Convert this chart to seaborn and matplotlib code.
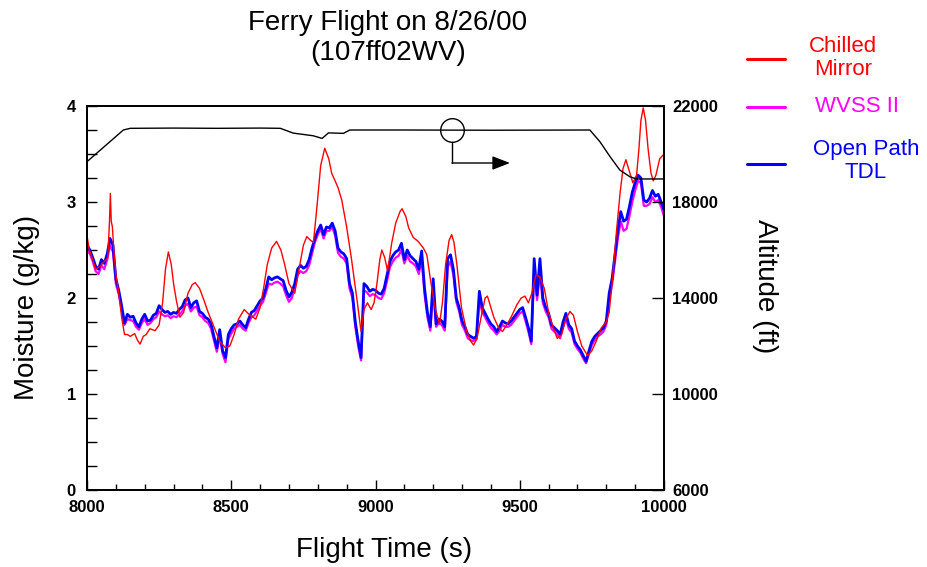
import numpy as np
import matplotlib
matplotlib.use("Agg")
import matplotlib.pyplot as plt
import seaborn as sns
from matplotlib.ticker import MultipleLocator

# ---------------- data ----------------
time_grid = np.arange(8000, 10001, 10)

tdl_values = [
    2.55, 2.50, 2.42, 2.33, 2.30, 2.40, 2.36, 2.46, 2.62, 2.55,
    2.20, 2.08, 1.92, 1.74, 1.83, 1.80, 1.81, 1.74, 1.70, 1.78,
    1.83, 1.76, 1.77, 1.82, 1.84, 1.92, 1.88, 1.85, 1.86, 1.83,
    1.85, 1.84, 1.88, 1.91, 1.98, 2.00, 1.90, 1.95, 1.97, 1.86,
    1.84, 1.80, 1.78, 1.73, 1.60, 1.48, 1.67, 1.45, 1.38, 1.62,
    1.68, 1.72, 1.73, 1.76, 1.72, 1.69, 1.78, 1.85, 1.87, 1.92,
    1.97, 2.00, 2.10, 2.22, 2.19, 2.21, 2.22, 2.20, 2.18, 2.08,
    2.01, 2.06, 2.15, 2.30, 2.34, 2.31, 2.33, 2.40, 2.52, 2.62,
    2.70, 2.76, 2.66, 2.74, 2.73, 2.78, 2.70, 2.52, 2.48, 2.46,
    2.41, 2.15, 2.05, 1.75, 1.55, 1.38, 2.15, 2.12, 2.07, 2.09,
    2.08, 2.05, 2.04, 2.10, 2.24, 2.38, 2.44, 2.48, 2.50, 2.57,
    2.40, 2.50, 2.44, 2.41, 2.38, 2.30, 2.49, 2.10, 1.85, 1.70,
    2.20, 1.73, 1.78, 1.76, 1.70, 2.41, 2.45, 2.30, 2.00, 1.90,
    1.76, 1.70, 1.62, 1.60, 1.58, 1.60, 2.07, 1.90, 1.84, 1.78,
    1.73, 1.70, 1.65, 1.70, 1.76, 1.74, 1.73, 1.76, 1.80, 1.84,
    1.88, 1.90, 1.80, 1.69, 1.55, 2.41, 2.03, 2.41, 2.00, 1.90,
    1.84, 1.72, 1.69, 1.66, 1.62, 1.75, 1.84, 1.72, 1.68, 1.55,
    1.50, 1.46, 1.40, 1.34, 1.45, 1.55, 1.60, 1.63, 1.66, 1.69,
    1.76, 2.05, 2.20, 2.45, 2.70, 2.90, 2.80, 2.82, 2.95, 3.10,
    3.20, 3.28, 3.25, 3.02, 3.00, 3.04, 3.12, 3.06, 3.08, 3.00,
    2.92,
]

wvss_values = [
    2.50, 2.46, 2.38, 2.28, 2.25, 2.34, 2.30, 2.40, 2.55, 2.48,
    2.15, 2.04, 1.88, 1.72, 1.78, 1.77, 1.76, 1.70, 1.67, 1.74,
    1.78, 1.72, 1.74, 1.78, 1.80, 1.86, 1.83, 1.81, 1.82, 1.79,
    1.81, 1.80, 1.83, 1.86, 1.92, 1.94, 1.86, 1.90, 1.91, 1.82,
    1.80, 1.76, 1.74, 1.68, 1.56, 1.44, 1.60, 1.42, 1.33, 1.57,
    1.63, 1.68, 1.70, 1.72, 1.68, 1.66, 1.74, 1.80, 1.82, 1.87,
    1.92, 1.96, 2.05, 2.15, 2.14, 2.16, 2.17, 2.15, 2.12, 2.03,
    1.96, 2.00, 2.10, 2.24, 2.28, 2.26, 2.28, 2.34, 2.46, 2.58,
    2.66, 2.72, 2.62, 2.70, 2.70, 2.74, 2.65, 2.47, 2.43, 2.41,
    2.36, 2.10, 2.00, 1.70, 1.50, 1.35, 2.08, 2.06, 2.02, 2.04,
    2.03, 2.00, 1.99, 2.05, 2.18, 2.32, 2.38, 2.42, 2.44, 2.50,
    2.36, 2.44, 2.38, 2.36, 2.33, 2.25, 2.40, 2.04, 1.80, 1.66,
    2.10, 1.70, 1.74, 1.72, 1.66, 2.32, 2.38, 2.24, 1.96, 1.86,
    1.72, 1.66, 1.58, 1.56, 1.55, 1.57, 1.98, 1.85, 1.80, 1.74,
    1.69, 1.66, 1.62, 1.66, 1.72, 1.70, 1.70, 1.72, 1.76, 1.80,
    1.84, 1.86, 1.76, 1.65, 1.52, 2.28, 1.98, 2.25, 1.95, 1.86,
    1.80, 1.68, 1.65, 1.62, 1.58, 1.70, 1.79, 1.68, 1.64, 1.52,
    1.47, 1.43, 1.37, 1.32, 1.42, 1.51, 1.56, 1.60, 1.62, 1.65,
    1.72, 1.98, 2.14, 2.38, 2.62, 2.80, 2.70, 2.72, 2.85, 3.00,
    3.12, 3.22, 3.20, 2.96, 2.96, 2.98, 3.05, 3.00, 3.02, 2.95,
    2.85,
]

mirror_time = [
    8000, 8008, 8020, 8030, 8045, 8060, 8072, 8078, 8081, 8084, 8088, 8093,
    8100, 8110, 8120, 8130, 8140, 8150, 8165, 8175, 8184, 8195, 8205, 8218,
    8236, 8250, 8262, 8272, 8282, 8292, 8300, 8310, 8322, 8335, 8350, 8365,
    8375, 8390, 8405, 8420, 8440, 8460, 8480, 8495, 8510, 8525, 8545, 8565,
    8585, 8600, 8612, 8625, 8640, 8657, 8672, 8685, 8700, 8720, 8735, 8750,
    8762, 8775, 8785, 8797, 8810, 8824, 8838, 8848, 8860, 8870, 8883, 8900,
    8917, 8935, 8950, 8960, 8972, 8985, 8995, 9005, 9015, 9022, 9032, 9042,
    9056, 9070, 9085, 9092, 9105, 9115, 9131, 9148, 9158, 9166, 9178, 9190,
    9206, 9222, 9232, 9243, 9255, 9264, 9272, 9282, 9298, 9316, 9330, 9340,
    9352, 9366, 9380, 9388, 9398, 9410, 9425, 9440, 9455, 9470, 9490, 9505,
    9518, 9530, 9542, 9556, 9570, 9585, 9600, 9615, 9630, 9645, 9660, 9674,
    9686, 9700, 9715, 9735, 9750, 9765, 9783, 9800, 9810, 9820, 9836, 9848,
    9858, 9868, 9880, 9892, 9905, 9913, 9920, 9928, 9936, 9945, 9955, 9963,
    9972, 9985, 10000,
]
mirror_values = [
    2.65, 2.50, 2.40, 2.30, 2.33, 2.38, 2.42, 2.80, 3.09, 2.80, 2.74, 2.50,
    2.25, 2.05, 1.80, 1.62, 1.62, 1.60, 1.63, 1.56, 1.52, 1.60, 1.62, 1.68,
    1.66, 1.72, 1.95, 2.30, 2.48, 2.35, 2.15, 1.97, 1.80, 1.85, 2.05, 2.14,
    2.16, 2.10, 1.98, 1.85, 1.70, 1.55, 1.48, 1.50, 1.62, 1.78, 1.88, 1.82,
    1.78, 1.90, 2.10, 2.35, 2.52, 2.59, 2.50, 2.35, 2.15, 2.05, 2.30, 2.55,
    2.64, 2.60, 2.58, 2.95, 3.38, 3.56, 3.45, 3.30, 3.22, 3.15, 3.02, 2.74,
    2.40, 2.00, 1.65, 1.88, 1.95, 1.88, 1.95, 2.15, 2.40, 2.50, 2.42, 2.28,
    2.57, 2.78, 2.90, 2.93, 2.85, 2.73, 2.63, 2.59, 2.55, 2.52, 2.45, 2.20,
    1.90, 1.73, 1.95, 2.35, 2.60, 2.66, 2.58, 2.35, 1.90, 1.65, 1.55, 1.51,
    1.58, 1.80, 2.00, 2.02, 1.92, 1.80, 1.70, 1.65, 1.72, 1.80, 1.93, 2.00,
    2.02, 1.95, 2.05, 2.24, 2.22, 2.10, 1.85, 1.70, 1.58, 1.62, 1.78, 1.86,
    1.82, 1.65, 1.50, 1.40, 1.45, 1.55, 1.69, 1.75, 1.85, 2.15, 2.72, 3.10,
    3.35, 3.44, 3.32, 3.20, 3.28, 3.55, 3.85, 3.98, 3.85, 3.55, 3.30, 3.22,
    3.28, 3.45, 3.50,
]

alt_time = [8000, 8126, 8150, 8300, 8450, 8600, 8670, 8715, 8784, 8815, 8837,
            8889, 8911, 9100, 9400, 9743, 9778, 9813, 9847, 9882, 9905, 10000]
alt_values = [19680, 21000, 21070, 21080, 21070, 21080, 21070, 20870, 20760,
              20650, 20880, 20860, 21000, 21000, 20990, 21000, 20510, 19890,
              19330, 19050, 18960, 18960]

x_ticks = [8000, 8500, 9000, 9500, 10000]
moist_ticks = [0, 1, 2, 3, 4]
alt_ticks = [6000, 10000, 14000, 18000, 22000]

series_labels = ["Chilled\nMirror", "WVSS II", "Open Path\nTDL"]
series_colors = ["#ff0000", "#ff00ff", "#0000ff"]

# annotation (circle on altitude line, arrow pointing to right axis)
marker_time = 9265
arrow_corner_alt = 19625
arrow_end_time = 9466

# ---------------- figure ----------------
sns.set_theme(style="white")
plt.rcParams["font.family"] = ["Liberation Sans", "DejaVu Sans"]
plt.rcParams["text.color"] = "black"
plt.rcParams["axes.labelcolor"] = "black"
plt.rcParams["xtick.color"] = "black"
plt.rcParams["ytick.color"] = "black"

W, H = 927, 567
fig = plt.figure(figsize=(W / 100, H / 100), dpi=100)
ax = fig.add_axes([87 / W, 1 - 490 / H, (664 - 87) / W, (490 - 106) / H])

sns.lineplot(x=time_grid, y=wvss_values, ax=ax, color=series_colors[1],
             lw=1.6, estimator=None, sort=False)
sns.lineplot(x=time_grid, y=tdl_values, ax=ax, color=series_colors[2],
             lw=2.0, estimator=None, sort=False)
sns.lineplot(x=mirror_time, y=mirror_values, ax=ax, color=series_colors[0],
             lw=1.0, estimator=None, sort=False)

ax.set_xlim(8000, 10000)
ax.set_ylim(0, 4)
ax.set_xticks(x_ticks)
ax.set_yticks(moist_ticks)
ax.xaxis.set_minor_locator(MultipleLocator(100))
ax.yaxis.set_minor_locator(MultipleLocator(0.25))
ax.tick_params(axis="x", which="major", direction="in", length=7, width=1,
               pad=7, labelsize=12, colors="black", bottom=True, top=False)
ax.tick_params(axis="x", which="minor", direction="in", length=4, width=1,
               bottom=True, top=False, colors="black")
ax.tick_params(axis="y", which="both", direction="in", length=7, width=1,
               pad=8, labelsize=12, left=True, right=False, colors="black")
for lab in ax.get_xticklabels() + ax.get_yticklabels():
    lab.set_fontweight("bold")
ax.set_xlabel("")
ax.set_ylabel("")

ax2 = ax.twinx()
sns.lineplot(x=alt_time, y=alt_values, ax=ax2, color="black", lw=1.0,
             estimator=None, sort=False)
ax2.set_ylim(6000, 22000)
ax2.set_xlim(8000, 10000)
ax2.set_yticks(alt_ticks)
ax2.tick_params(axis="y", which="major", direction="in", length=9, width=1,
                pad=6, labelsize=12, right=True, left=False, colors="black")
for lab in ax2.get_yticklabels():
    lab.set_fontweight("bold")
ax2.set_ylabel("")

for a in (ax, ax2):
    for sp in a.spines.values():
        sp.set_color("black")
        sp.set_linewidth(1.3)

# annotation
marker_alt = float(np.interp(marker_time, alt_time, alt_values))
ax2.plot([marker_time], [marker_alt], marker="o", ms=17, mfc="none",
         mec="black", mew=1.0, color="black")
circle_bottom = marker_alt - 490
ax2.plot([marker_time, marker_time], [circle_bottom, arrow_corner_alt],
         color="black", lw=1.0)
ax2.annotate("", xy=(arrow_end_time, arrow_corner_alt),
             xytext=(marker_time, arrow_corner_alt),
             arrowprops=dict(arrowstyle="-|>,head_length=0.9,head_width=0.35",
                             color="black", lw=1.0, shrinkA=0, shrinkB=0))

# titles / labels
fig.text(388 / W, 1 - 23 / H, "Ferry Flight on 8/26/00", ha="center",
         va="center", fontsize=20)
fig.text(388 / W, 1 - 53 / H, "(107ff02WV)", ha="center", va="center",
         fontsize=20)
fig.text(27 / W, 1 - 307 / H, "Moisture (g/kg)", ha="center", va="center",
         rotation=90, fontsize=20)
fig.text(765 / W, 1 - 286 / H, "Altitude (ft)", ha="center", va="center",
         rotation=-90, fontsize=20)
fig.text(384 / W, 1 - 550 / H, "Flight Time (s)", ha="center", va="center",
         fontsize=20)

# legend (manual, outside right)
leg_line_y = [59, 107, 164]
leg_text_x = [843, 857, 866]
leg_text_y = [58, 107, 161]
for lab, col, ly, tx, ty in zip(series_labels, series_colors, leg_line_y,
                                leg_text_x, leg_text_y):
    fig.add_artist(plt.Line2D([747 / W, 785 / W], [1 - ly / H, 1 - ly / H],
                              color=col, lw=2.2, transform=fig.transFigure))
    fig.text(tx / W, 1 - ty / H, lab, ha="center", va="center", color=col,
             fontsize=16, linespacing=1.15)

fig.savefig("out.png", dpi=100)
